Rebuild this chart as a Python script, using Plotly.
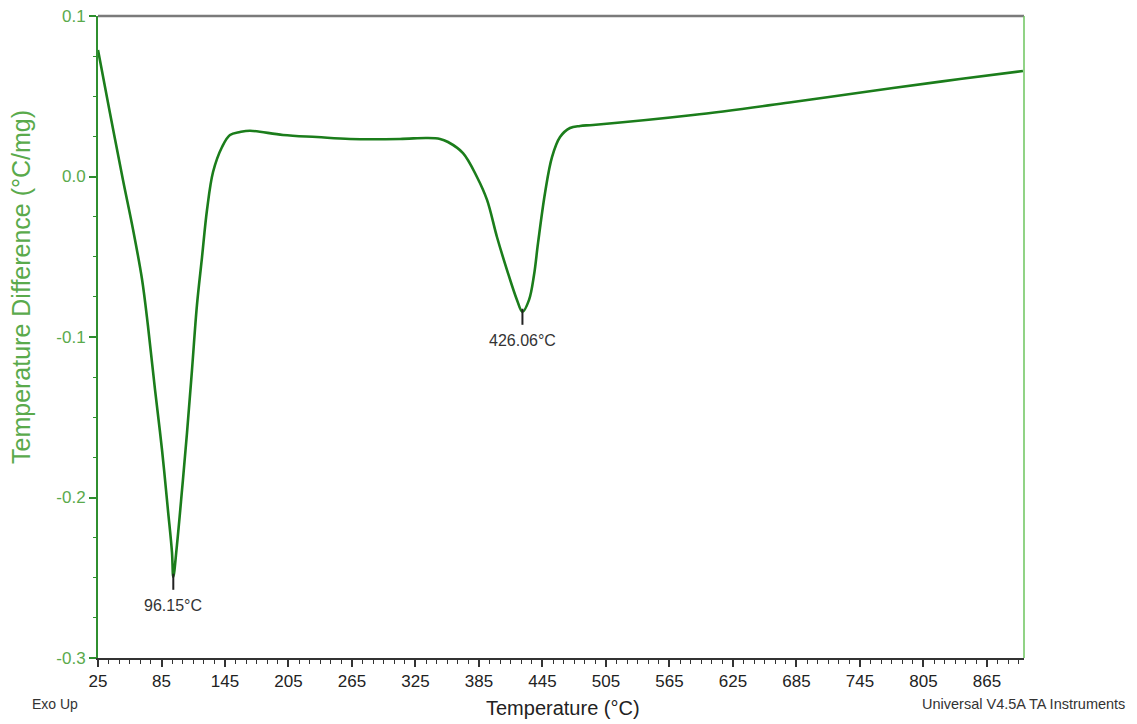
import plotly.graph_objects as go

# DTA curve: temperature (°C) vs temperature difference (°C/mg)
temperature = [25.0, 36.3, 48.6, 58.1, 66.6, 72.2, 78.9, 85.5, 91.1, 94.9, 96.15,
               99.6, 104.4, 109.1, 113.8, 118.5, 123.3, 128.0, 133.7, 142.2, 149.7,
               159.2, 168.6, 199.8, 231.9, 263.1, 310.4, 335.9, 348.2, 355.7, 369.9,
               383.1, 392.6, 402.0, 411.5, 420.9, 426.06, 432.3, 437.0, 440.8, 447.4,
               454.0, 461.6, 471.0, 480.5, 492.7, 587.2, 681.7, 776.2, 839.5, 899.0]
temp_diff = [0.0788, 0.0396, -0.0022, -0.0330, -0.0640, -0.0930, -0.1330, -0.1704,
             -0.2078, -0.2340, -0.2495, -0.2296, -0.1953, -0.1598, -0.1206, -0.0801,
             -0.0502, -0.0209, 0.0028, 0.0184, 0.0259, 0.0277, 0.0285, 0.0259, 0.0246,
             0.0234, 0.0234, 0.0240, 0.0234, 0.0215, 0.0146, -0.0003, -0.0146, -0.0377,
             -0.0583, -0.0769, -0.0844, -0.0769, -0.0614, -0.0414, -0.0103, 0.0121,
             0.0246, 0.0302, 0.0315, 0.0321, 0.0383, 0.0464, 0.0551, 0.0607, 0.0657]

# Labelled peaks
peak_temps = [96.15, 426.06]
peak_vals = [-0.2495, -0.0844]
peak_labels = ["96.15°C", "426.06°C"]

x_ticks = [25, 85, 145, 205, 265, 325, 385, 445, 505, 565, 625, 685, 745, 805, 865]
y_ticks = [0.1, 0.0, -0.1, -0.2, -0.3]
y_tick_text = ["0.1", "0.0", "-0.1", "-0.2", "-0.3"]

CURVE = "#1b7d1b"
AXIS_GREEN = "#2f8f2f"
LABEL_GREEN = "#5aaa4c"
FONT = "Liberation Sans, Arial, sans-serif"

fig = go.Figure()

fig.add_trace(go.Scatter(
    x=temperature, y=temp_diff, mode="lines",
    line=dict(color=CURVE, width=2.6, shape="spline", smoothing=1.0),
    hoverinfo="skip", showlegend=False,
))

# Short vertical peak markers and their labels
for t, v, lab in zip(peak_temps, peak_vals, peak_labels):
    fig.add_trace(go.Scatter(
        x=[t, t], y=[v + 0.002, v - 0.008], mode="lines",
        line=dict(color="#222222", width=2), hoverinfo="skip", showlegend=False,
    ))
    fig.add_annotation(
        x=t, y=v - 0.011, text=lab, showarrow=False, yanchor="top",
        font=dict(family=FONT, size=16, color="#333333"),
    )

# Top and right frame lines
fig.add_shape(type="line", xref="paper", yref="paper", x0=0, x1=1, y0=1, y1=1,
              line=dict(color="#7a7a7a", width=2.5))
fig.add_shape(type="line", xref="paper", yref="paper", x0=1, x1=1, y0=0, y1=1,
              line=dict(color="#6cc45e", width=1.5))

fig.add_annotation(
    xref="paper", yref="paper", x=(21 - 98) / 926, y=(658 - 287) / 642,
    text="Temperature Difference (°C/mg)", textangle=-90, showarrow=False,
    xanchor="center", yanchor="middle",
    font=dict(family=FONT, size=25, color=LABEL_GREEN),
)
fig.add_annotation(
    xref="paper", yref="paper", x=(563 - 98) / 926, y=-(708 - 658) / 642,
    text="Temperature (°C)", showarrow=False, xanchor="center", yanchor="middle",
    font=dict(family=FONT, size=20, color="#222222"),
)
fig.add_annotation(
    xref="paper", yref="paper", x=(30 - 98) / 926, y=-(704 - 658) / 642,
    text="Exo Up", showarrow=False, xanchor="left", yanchor="middle",
    font=dict(family=FONT, size=14, color="#333333"),
)
fig.add_annotation(
    xref="paper", yref="paper", x=(1127 - 98) / 926, y=-(704 - 658) / 642,
    text="Universal V4.5A TA Instruments", showarrow=False, xanchor="right",
    yanchor="middle", font=dict(family=FONT, size=14.5, color="#333333"),
)

fig.update_layout(
    width=1137, height=724,
    margin=dict(l=98, r=113, t=16, b=66),
    paper_bgcolor="white", plot_bgcolor="white",
    font=dict(family=FONT),
    xaxis=dict(
        range=[25, 900], tickvals=x_ticks, showgrid=False, zeroline=False,
        automargin=False,
        showline=True, linecolor="#333333", linewidth=2,
        ticks="outside", ticklen=7, tickwidth=1.5, tickcolor="#333333",
        minor=dict(dtick=10, tick0=25, ticks="outside", ticklen=4,
                   tickcolor="#333333", tickwidth=1.2),
        tickfont=dict(family=FONT, size=17, color="#222222"),
    ),
    yaxis=dict(
        range=[-0.3, 0.1], tickvals=y_ticks, ticktext=y_tick_text,
        showgrid=False, zeroline=False, automargin=False,
        showline=True, linecolor=AXIS_GREEN, linewidth=2,
        ticks="outside", ticklen=7, tickwidth=1.5, tickcolor=AXIS_GREEN,
        minor=dict(dtick=0.025, tick0=0, ticks="outside", ticklen=3,
                   tickcolor=AXIS_GREEN, tickwidth=1.2),
        tickfont=dict(family=FONT, size=17, color=LABEL_GREEN),
    ),
)

fig.write_html("out.html")
